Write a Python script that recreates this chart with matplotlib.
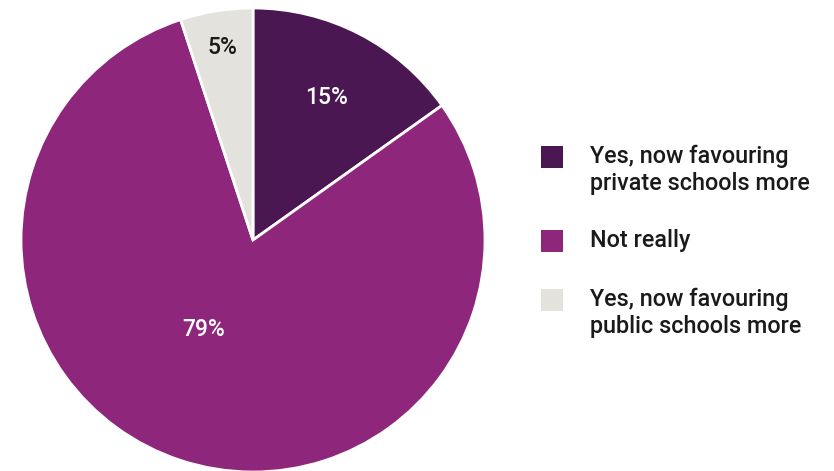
import matplotlib
matplotlib.use("Agg")
from matplotlib import pyplot as plt
from matplotlib.patches import Rectangle
import numpy as np

labels = ['Yes, now favouring\nprivate schools more', 'Not really',
          'Yes, now favouring\npublic schools more']
values = [15, 79, 5]
pct_text = ['15%', '79%', '5%']
colors = ['#4a1752', '#8e267c', '#e3e2dc']
pct_colors = ['white', 'white', '#1a1a1a']
# radius of each percent label (fraction of pie radius) and angle tweak
pct_dist = [0.69, 0.44, 0.84]
pct_shift = [0, -11, 0]

plt.rcParams['font.family'] = ['Roboto', 'DejaVu Sans']

W, H = 834, 471
fig = plt.figure(figsize=(W / 100, H / 100), dpi=100)

cx, cy, r = 253, 231, 232
ax = fig.add_axes([(cx - r) / W, (cy - r) / H, 2 * r / W, 2 * r / H])
wedges, _ = ax.pie(values, colors=colors, startangle=90, counterclock=False,
                   radius=1, wedgeprops=dict(edgecolor='white', linewidth=2))
ax.set_xlim(-1, 1)
ax.set_ylim(-1, 1)
ax.set_aspect('equal')
ax.axis('off')

for w, t, c, d, s in zip(wedges, pct_text, pct_colors, pct_dist, pct_shift):
    ang = np.deg2rad((w.theta1 + w.theta2) / 2 + s)
    ax.text(d * np.cos(ang), d * np.sin(ang), t, color=c, fontsize=16.5,
            fontweight='medium', ha='center', va='center')

# legend drawn by hand: square aligned with first text line
sq = 22
top_baselines = [163, 247, 306]
line_gap = 27
for lab, col, b in zip(labels, colors, top_baselines):
    yc = b - 6
    fig.patches.append(Rectangle((541 / W, 1 - (yc + sq / 2) / H), sq / W, sq / H,
                                 transform=fig.transFigure, facecolor=col,
                                 edgecolor='none'))
    for i, line in enumerate(lab.split('\n')):
        fig.text(590 / W, 1 - (b + i * line_gap) / H, line, fontsize=16.8,
                 fontweight='medium', color='#1a1a1a', ha='left', va='baseline')

fig.savefig('out.png', dpi=100)
